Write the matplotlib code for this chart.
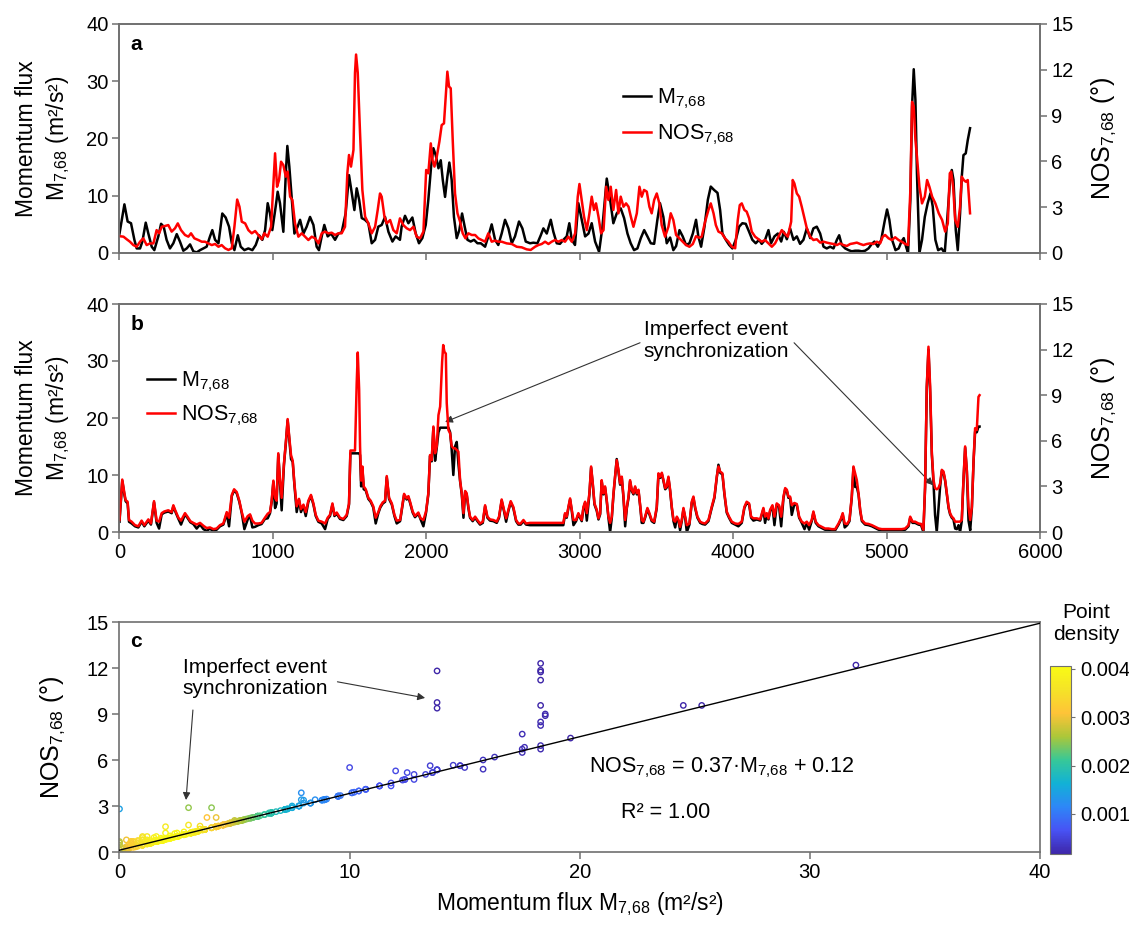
import numpy as np
import matplotlib
matplotlib.use("Agg")
import matplotlib.pyplot as plt
from matplotlib.colors import LinearSegmentedColormap, Normalize
from matplotlib.cm import ScalarMappable

plt.rcParams['font.family'] = ['Liberation Sans', 'DejaVu Sans']
plt.rcParams['mathtext.fontset'] = 'custom'
plt.rcParams['mathtext.rm'] = 'Liberation Sans'
plt.rcParams['mathtext.it'] = 'Liberation Sans:italic'
plt.rcParams['mathtext.bf'] = 'Liberation Sans:bold'

# ---- panel a : raw series, (time, value) pairs ----
a_black = np.array([
    (0, 3.4), (32, 8.5), (53, 5.5), (75, 5.2), (97, 2.3), (112, 0.8), (134, 0.8), (149, 2.0), (171, 5.3), (188, 3.4),
    (210, 1.1), (227, 0.5), (253, 2.9), (271, 5.1), (288, 4.6), (307, 2.3), (329, 0.8), (351, 1.7), (373, 3.3), (394, 2.0),
    (416, 0.4), (438, 0.8), (460, 1.5), (481, 0.3), (503, 0.1), (525, 0.5), (547, 0.8), (568, 1.1), (590, 2.9), (605, 4.0),
    (623, 2.3), (645, 1.7), (670, 6.9), (692, 6.2), (714, 4.6), (732, 1.7), (749, 0.5), (771, 3.1), (790, 1.1), (814, 0.5),
    (840, 0.8), (866, 0.5), (888, 1.4), (910, 3.1), (931, 2.3), (949, 4.0), (966, 8.7), (981, 6.9), (996, 4.0), (1018, 8.1),
    (1031, 10.7), (1046, 8.7), (1068, 3.7), (1084, 13.9), (1094, 18.7), (1107, 15.1), (1122, 9.8), (1140, 3.4), (1161, 4.6), (1177, 5.8),
    (1199, 3.4), (1220, 4.6), (1242, 6.3), (1264, 4.9), (1285, 1.1), (1300, 0.5), (1318, 2.9), (1335, 4.9), (1357, 2.9), (1379, 3.4),
    (1405, 2.3), (1427, 3.4), (1448, 3.6), (1474, 6.9), (1496, 13.6), (1518, 9.8), (1531, 7.5), (1546, 11.3), (1562, 9.3), (1579, 6.1),
    (1600, 5.8), (1622, 5.2), (1644, 1.7), (1666, 2.3), (1687, 4.6), (1709, 4.9), (1731, 6.3), (1753, 3.7), (1779, 2.0), (1800, 2.9),
    (1828, 2.3), (1839, 4.6), (1861, 6.5), (1883, 5.2), (1909, 6.2), (1931, 3.4), (1952, 1.7), (1974, 2.6), (1996, 4.9), (2013, 9.3),
    (2031, 15.1), (2046, 18.3), (2061, 17.1), (2079, 14.8), (2094, 16.2), (2107, 12.8), (2122, 9.8), (2137, 13.3), (2150, 15.8), (2165, 12.8),
    (2180, 6.3), (2198, 2.6), (2215, 4.0), (2233, 6.9), (2250, 4.6), (2268, 2.3), (2289, 2.0), (2311, 2.3), (2333, 1.7), (2355, 1.7),
    (2383, 1.1), (2404, 2.9), (2426, 5.0), (2448, 2.3), (2469, 1.4), (2491, 3.4), (2513, 5.8), (2535, 4.3), (2557, 1.7), (2578, 2.9),
    (2604, 5.5), (2626, 4.3), (2648, 2.0), (2676, 1.7), (2698, 1.8), (2724, 1.7), (2746, 3.1), (2763, 4.3), (2785, 3.4), (2811, 5.8),
    (2828, 3.7), (2850, 1.7), (2871, 1.6), (2893, 2.3), (2915, 2.9), (2932, 5.2), (2948, 2.3), (2969, 1.4), (2991, 8.7), (3013, 5.8),
    (3035, 2.9), (3057, 3.4), (3078, 5.2), (3100, 2.0), (3126, 0.2), (3148, 4.6), (3176, 13.0), (3198, 9.3), (3219, 5.2), (3241, 6.9),
    (3267, 7.8), (3289, 6.1), (3311, 3.4), (3332, 1.7), (3354, 0.5), (3376, 0.8), (3398, 2.6), (3420, 4.0), (3441, 2.9), (3463, 1.7),
    (3485, 1.6), (3506, 5.8), (3523, 8.7), (3545, 6.3), (3567, 1.7), (3589, 2.7), (3610, 0.5), (3628, 1.2), (3650, 4.0), (3671, 2.9),
    (3693, 1.4), (3715, 1.7), (3737, 3.4), (3758, 5.8), (3773, 2.9), (3791, 1.1), (3813, 4.6), (3835, 9.3), (3854, 11.6), (3876, 11.0),
    (3898, 10.5), (3915, 7.5), (3930, 3.4), (3952, 2.3), (3974, 1.4), (3995, 0.8), (4017, 2.3), (4039, 4.6), (4060, 5.2), (4082, 5.1),
    (4104, 3.7), (4125, 2.3), (4147, 1.7), (4169, 2.3), (4186, 1.6), (4208, 2.3), (4230, 4.0), (4247, 1.7), (4269, 2.9), (4291, 3.4),
    (4313, 2.0), (4330, 3.7), (4350, 2.4), (4371, 4.3), (4393, 2.3), (4415, 2.9), (4436, 1.6), (4458, 2.3), (4480, 4.3), (4502, 2.6),
    (4523, 4.3), (4545, 4.6), (4567, 3.4), (4589, 1.1), (4610, 0.8), (4632, 1.1), (4654, 0.8), (4676, 2.3), (4691, 3.1), (4708, 1.4),
    (4730, 0.8), (4752, 0.5), (4773, 0.3), (4795, 0.4), (4817, 0.4), (4839, 0.3), (4860, 0.4), (4882, 0.8), (4904, 1.6), (4921, 2.0),
    (4943, 1.1), (4965, 2.3), (4987, 5.5), (5003, 7.6), (5018, 5.8), (5036, 2.3), (5058, 0.5), (5079, 0.8), (5097, 2.0), (5112, 2.6),
    (5127, 1.1), (5140, 0.0), (5155, 9.3), (5166, 25.6), (5177, 32.1), (5188, 26.7), (5198, 13.9), (5214, 0.0), (5231, 2.3), (5249, 6.3),
    (5268, 8.7), (5286, 10.4), (5301, 8.1), (5318, 2.3), (5336, 0.5), (5358, 0.8), (5379, 0.0), (5392, 4.6), (5414, 12.8), (5425, 14.5),
    (5436, 12.8), (5451, 4.0), (5464, 0.5), (5479, 6.9), (5490, 13.3), (5501, 17.1), (5516, 17.4), (5529, 19.7), (5544, 21.8),
])

a_red = np.array([
    (0, 1.1), (26, 1.07), (47, 0.9), (68, 0.74), (90, 0.52), (112, 0.41), (134, 0.74), (155, 0.96), (177, 0.52), (199, 0.63),
    (221, 0.63), (242, 1.5), (258, 1.29), (275, 1.72), (297, 1.77), (318, 1.83), (340, 1.4), (362, 1.62), (380, 1.94), (401, 1.5),
    (427, 1.18), (449, 1.07), (466, 1.29), (488, 0.96), (514, 0.85), (536, 0.74), (557, 0.74), (579, 0.63), (601, 0.52), (623, 0.59),
    (645, 0.41), (666, 0.52), (688, 0.31), (710, 0.2), (732, 0.31), (749, 1.72), (767, 3.5), (782, 3.03), (797, 2.05), (819, 1.94),
    (840, 1.5), (862, 1.29), (884, 1.44), (905, 1.18), (927, 0.9), (944, 1.29), (966, 1.07), (988, 1.72), (1003, 4.56), (1014, 6.53),
    (1027, 4.34), (1040, 4.78), (1053, 5.98), (1068, 5.76), (1084, 5.0), (1096, 5.33), (1112, 3.69), (1127, 3.47), (1144, 1.94), (1166, 1.07),
    (1188, 1.29), (1210, 1.07), (1231, 0.85), (1253, 1.07), (1275, 0.96), (1297, 0.63), (1318, 1.29), (1340, 1.4), (1361, 1.29), (1383, 1.33),
    (1405, 1.18), (1427, 1.29), (1448, 1.29), (1470, 1.72), (1485, 5.2), (1496, 6.42), (1509, 5.66), (1525, 6.75), (1535, 11.8), (1542, 13.0),
    (1553, 11.8), (1568, 7.84), (1583, 4.13), (1601, 2.38), (1622, 1.94), (1644, 1.29), (1666, 1.72), (1683, 2.82), (1698, 3.9), (1709, 3.69),
    (1727, 2.38), (1742, 1.94), (1764, 2.16), (1785, 1.5), (1807, 1.29), (1828, 2.27), (1850, 1.83), (1872, 1.62), (1894, 1.5), (1916, 1.72),
    (1937, 1.07), (1959, 0.96), (1981, 1.4), (1999, 5.44), (2013, 5.22), (2029, 7.18), (2040, 6.09), (2053, 5.66), (2068, 6.31), (2085, 7.29),
    (2100, 8.38), (2115, 8.49), (2126, 10.24), (2137, 11.88), (2148, 10.9), (2159, 10.79), (2172, 7.4), (2187, 3.9), (2203, 2.6), (2220, 2.05),
    (2237, 1.29), (2255, 0.96), (2274, 1.29), (2296, 1.18), (2318, 1.18), (2339, 0.96), (2361, 0.85), (2383, 0.74), (2404, 1.29), (2426, 0.74),
    (2448, 0.81), (2469, 0.74), (2491, 0.74), (2524, 0.63), (2557, 0.59), (2589, 0.41), (2622, 0.37), (2654, 0.24), (2680, 0.2), (2709, 0.41),
    (2730, 0.52), (2752, 0.59), (2774, 0.74), (2796, 0.59), (2817, 0.74), (2839, 0.85), (2861, 0.74), (2883, 0.85), (2904, 0.74), (2926, 1.07),
    (2948, 0.74), (2970, 1.29), (2987, 3.69), (2998, 4.52), (3013, 3.47), (3028, 2.38), (3046, 1.5), (3063, 2.6), (3078, 3.69), (3093, 2.82),
    (3106, 3.25), (3122, 2.38), (3139, 1.29), (3155, 1.5), (3172, 4.34), (3187, 3.47), (3202, 4.34), (3219, 2.82), (3237, 4.13), (3252, 2.6),
    (3267, 3.69), (3285, 3.03), (3302, 3.25), (3318, 3.03), (3333, 2.38), (3350, 1.72), (3372, 2.6), (3389, 4.34), (3404, 3.69), (3419, 4.13),
    (3437, 4.02), (3454, 3.03), (3469, 2.6), (3485, 3.47), (3502, 3.9), (3519, 3.25), (3534, 1.83), (3556, 1.07), (3578, 1.72), (3593, 2.6),
    (3610, 2.16), (3628, 1.18), (3650, 0.96), (3671, 0.74), (3693, 0.52), (3715, 0.41), (3737, 0.59), (3758, 1.1), (3780, 1.0), (3795, 1.07),
    (3817, 2.05), (3839, 2.82), (3854, 3.25), (3872, 2.6), (3887, 1.83), (3904, 1.4), (3926, 1.29), (3947, 0.96), (3969, 0.74), (3991, 0.41),
    (4013, 0.31), (4030, 2.16), (4043, 3.14), (4056, 3.25), (4073, 2.82), (4088, 2.71), (4104, 2.27), (4121, 1.4), (4143, 1.07), (4165, 0.9),
    (4186, 0.74), (4208, 0.85), (4230, 0.63), (4252, 0.41), (4273, 0.63), (4295, 1.07), (4317, 1.5), (4334, 1.29), (4356, 1.07), (4378, 2.05),
    (4388, 4.78), (4399, 4.56), (4415, 3.9), (4430, 3.69), (4447, 3.03), (4465, 2.27), (4480, 1.62), (4502, 1.07), (4523, 0.85), (4545, 0.9),
    (4567, 0.68), (4589, 0.74), (4610, 0.68), (4632, 0.63), (4654, 0.59), (4676, 0.52), (4697, 0.63), (4719, 0.52), (4741, 0.46), (4763, 0.59),
    (4784, 0.63), (4806, 0.68), (4828, 0.59), (4849, 0.52), (4871, 0.59), (4893, 0.63), (4915, 0.59), (4937, 0.74), (4958, 0.63), (4975, 1.07),
    (4991, 1.18), (5013, 0.96), (5034, 0.85), (5056, 1.03), (5078, 0.85), (5099, 0.74), (5121, 0.59), (5140, 0.52), (5155, 4.13), (5166, 9.9),
    (5177, 9.6), (5188, 7.4), (5198, 6.31), (5214, 4.34), (5231, 3.25), (5249, 3.69), (5264, 4.78), (5279, 4.34), (5297, 3.69), (5318, 3.25),
    (5340, 2.6), (5362, 2.16), (5382, 1.4), (5399, 1.94), (5412, 5.22), (5421, 5.33), (5434, 4.34), (5447, 2.16), (5464, 1.72), (5479, 3.03),
    (5490, 5.0), (5503, 4.78), (5516, 4.67), (5529, 4.78), (5544, 2.6),
])

# ---- panel b : synchronized series, (time, M, NOS) ----
b_series = np.array([
    (0, 1.8, 0.79), (18, 9.0, 3.45), (32, 6.5, 2.55), (40, 5.4, 2.10), (53, 5.0, 1.99), (62, 1.8, 0.79), (79, 1.5, 0.68),
    (101, 1.0, 0.45), (123, 0.8, 0.38), (144, 1.8, 0.75), (162, 1.0, 0.45), (188, 2.0, 0.83), (205, 1.3, 0.56), (225, 5.2, 2.03),
    (242, 1.6, 0.75), (258, 0.6, 0.68), (275, 3.1, 1.24), (292, 3.4, 1.35), (318, 3.6, 1.43), (340, 3.3, 1.31), (351, 4.5, 1.76),
    (362, 3.7, 1.46), (384, 2.3, 0.94), (401, 1.3, 0.75), (427, 3.1, 1.24), (445, 2.4, 0.98), (462, 1.7, 0.71), (481, 1.4, 0.60),
    (503, 0.6, 0.49), (525, 1.3, 0.60), (547, 0.5, 0.41), (568, 0.2, 0.26), (590, 0.6, 0.30), (612, 0.1, 0.19), (633, 0.4, 0.23),
    (655, 1.0, 0.45), (677, 1.3, 0.56), (699, 3.2, 1.31), (714, 1.0, 0.94), (732, 6.3, 2.44), (747, 7.3, 2.81), (764, 6.8, 2.63),
    (781, 5.3, 2.06), (797, 3.3, 1.31), (814, 0.5, 0.68), (836, 2.2, 1.05), (851, 2.9, 1.16), (866, 0.8, 0.75), (883, 0.9, 0.56),
    (905, 1.2, 0.56), (926, 1.4, 0.60), (948, 2.3, 0.94), (966, 2.4, 1.20), (981, 3.3, 1.31), (992, 5.3, 2.06), (1003, 8.8, 3.38),
    (1014, 4.2, 2.25), (1024, 5.0, 2.06), (1035, 13.6, 5.18), (1046, 8.8, 3.38), (1057, 3.8, 2.25), (1072, 11.8, 4.50), (1085, 15.8, 6.00),
    (1096, 19.6, 7.43), (1107, 16.3, 6.19), (1118, 12.8, 5.06), (1129, 12.3, 4.69), (1140, 8.3, 3.19), (1155, 3.5, 1.69), (1170, 5.6, 2.18),
    (1183, 3.5, 1.50), (1199, 4.6, 1.80), (1214, 2.8, 1.31), (1231, 5.3, 2.06), (1248, 6.3, 2.44), (1264, 4.8, 1.88), (1279, 2.8, 1.13),
    (1296, 1.8, 0.75), (1318, 1.5, 0.68), (1340, 0.5, 0.56), (1357, 2.3, 0.94), (1372, 2.8, 1.13), (1388, 4.8, 1.88), (1401, 2.8, 1.13),
    (1416, 3.2, 1.28), (1437, 2.3, 0.94), (1459, 2.1, 0.86), (1481, 2.8, 1.13), (1496, 4.8, 1.88), (1505, 13.8, 5.36), (1520, 13.8, 5.36),
    (1535, 13.8, 5.36), (1546, 13.8, 9.75), (1553, 13.8, 11.81), (1562, 13.8, 9.38), (1568, 13.5, 5.63), (1575, 8.0, 3.38), (1583, 11.3, 4.31),
    (1592, 7.5, 3.00), (1605, 7.3, 2.81), (1622, 5.8, 2.25), (1637, 5.3, 2.06), (1654, 4.3, 1.69), (1670, 1.5, 0.94), (1687, 3.3, 1.31),
    (1700, 4.3, 1.69), (1716, 5.0, 1.95), (1731, 5.3, 2.06), (1742, 9.6, 3.68), (1757, 5.8, 2.25), (1775, 4.8, 1.88), (1792, 2.8, 1.13),
    (1807, 1.5, 0.75), (1829, 1.9, 0.79), (1855, 6.5, 2.51), (1872, 5.7, 2.21), (1883, 6.1, 2.36), (1894, 5.1, 1.99), (1911, 3.4, 1.35),
    (1926, 2.6, 1.05), (1948, 3.2, 1.28), (1963, 2.2, 0.90), (1981, 1.0, 0.79), (1998, 3.4, 1.35), (2013, 6.6, 2.55), (2024, 13.3, 5.06),
    (2035, 12.4, 4.73), (2046, 18.3, 6.94), (2057, 12.5, 5.18), (2068, 14.8, 5.63), (2079, 17.5, 7.69), (2090, 18.3, 8.25), (2096, 18.3, 9.56),
    (2103, 18.3, 11.21), (2110, 18.3, 12.30), (2118, 18.3, 11.85), (2127, 18.3, 11.74), (2133, 18.3, 8.48), (2144, 18.3, 6.71), (2155, 17.5, 6.49),
    (2165, 14.5, 5.66), (2176, 10.0, 5.51), (2187, 15.0, 5.51), (2198, 15.8, 5.40), (2209, 12.0, 5.29), (2220, 8.9, 3.41), (2231, 6.6, 2.55),
    (2242, 2.5, 1.24), (2253, 7.0, 2.70), (2263, 6.6, 2.55), (2274, 4.2, 1.65), (2285, 2.5, 1.01), (2302, 1.9, 0.79), (2318, 2.5, 1.01),
    (2333, 1.9, 0.79), (2350, 1.3, 0.56), (2368, 1.6, 0.68), (2383, 4.5, 1.76), (2398, 2.5, 1.01), (2415, 2.0, 0.83), (2437, 1.9, 0.79),
    (2459, 1.6, 0.68), (2474, 2.5, 1.01), (2491, 5.5, 2.14), (2506, 3.7, 1.46), (2520, 1.8, 0.90), (2535, 3.7, 1.46), (2550, 5.2, 2.03),
    (2567, 4.2, 1.65), (2585, 1.9, 0.79), (2600, 1.3, 0.56), (2615, 1.3, 0.56), (2633, 1.9, 0.79), (2650, 1.3, 0.56), (2676, 1.2, 0.60),
    (2700, 1.2, 0.60), (2725, 1.2, 0.60), (2750, 1.2, 0.60), (2775, 1.2, 0.60), (2800, 1.2, 0.60), (2825, 1.2, 0.60), (2850, 1.2, 0.60),
    (2875, 1.2, 0.60), (2893, 1.2, 0.60), (2904, 3.1, 1.24), (2915, 2.5, 1.01), (2926, 4.2, 1.65), (2937, 5.7, 2.21), (2948, 3.7, 1.46),
    (2959, 1.2, 0.79), (2976, 1.9, 0.79), (2991, 3.1, 1.24), (3013, 1.9, 0.79), (3024, 4.2, 1.65), (3035, 5.1, 1.99), (3046, 2.0, 1.24),
    (3063, 6.6, 2.55), (3074, 11.3, 4.31), (3085, 8.3, 3.19), (3096, 4.8, 1.88), (3111, 3.7, 1.46), (3122, 2.2, 0.90), (3133, 3.1, 1.24),
    (3143, 8.9, 3.41), (3154, 6.6, 2.55), (3165, 7.8, 3.00), (3176, 5.4, 2.10), (3187, 2.5, 1.01), (3198, 0.0, 0.60), (3209, 2.5, 1.01),
    (3220, 6.6, 2.55), (3230, 9.5, 3.64), (3241, 12.8, 4.73), (3252, 10.7, 4.09), (3263, 8.3, 3.19), (3274, 9.5, 3.64), (3285, 6.0, 2.33),
    (3296, 1.0, 0.79), (3307, 4.2, 1.65), (3318, 6.0, 2.33), (3328, 8.9, 3.41), (3339, 7.2, 2.78), (3350, 6.6, 2.55), (3361, 7.8, 3.00),
    (3372, 6.6, 2.55), (3383, 7.2, 2.78), (3394, 4.5, 1.76), (3404, 1.6, 0.79), (3415, 1.6, 0.68), (3426, 2.5, 1.01), (3441, 4.0, 1.58),
    (3454, 3.1, 1.24), (3469, 1.9, 0.79), (3485, 1.6, 0.68), (3502, 4.2, 1.65), (3513, 10.1, 3.86), (3524, 9.5, 3.64), (3535, 10.2, 3.90),
    (3546, 8.9, 3.41), (3557, 7.5, 2.89), (3567, 7.8, 3.00), (3578, 9.5, 3.64), (3589, 7.2, 2.78), (3600, 4.2, 1.65), (3611, 1.9, 0.79),
    (3622, 0.8, 0.68), (3633, 2.5, 1.01), (3644, 1.9, 0.79), (3654, 0.3, 0.34), (3665, 1.9, 0.79), (3676, 4.0, 1.58), (3687, 2.5, 1.01),
    (3698, 0.0, 0.45), (3715, 1.3, 0.56), (3730, 5.1, 1.99), (3741, 6.0, 2.33), (3752, 4.2, 1.65), (3767, 2.5, 1.01), (3785, 1.6, 0.68),
    (3800, 1.4, 0.60), (3817, 1.3, 0.56), (3839, 1.9, 0.79), (3860, 4.2, 1.65), (3878, 6.0, 2.33), (3893, 9.5, 3.64), (3904, 11.8, 4.31),
    (3915, 10.4, 3.98), (3930, 10.1, 3.86), (3943, 6.6, 2.55), (3958, 3.4, 1.35), (3973, 2.5, 1.01), (3991, 1.6, 0.68), (4013, 1.3, 0.56),
    (4034, 1.0, 0.53), (4056, 1.6, 0.68), (4073, 4.2, 1.65), (4088, 5.1, 1.99), (4104, 4.8, 1.88), (4117, 2.5, 1.01), (4132, 2.0, 0.90),
    (4154, 2.2, 0.90), (4176, 2.0, 0.83), (4197, 4.0, 1.58), (4208, 1.6, 1.01), (4219, 3.1, 1.24), (4230, 2.2, 0.90), (4241, 3.7, 1.46),
    (4256, 4.5, 1.76), (4269, 1.2, 1.01), (4284, 4.8, 1.88), (4299, 4.5, 1.76), (4313, 1.0, 1.01), (4328, 6.0, 2.33), (4339, 7.5, 2.89),
    (4350, 7.2, 2.78), (4360, 6.0, 2.33), (4371, 6.0, 2.33), (4382, 3.0, 1.76), (4399, 4.9, 1.91), (4415, 4.7, 1.84), (4430, 2.5, 1.01),
    (4447, 1.6, 0.68), (4465, 0.5, 0.56), (4480, 1.6, 0.68), (4495, 0.4, 0.45), (4512, 1.9, 0.79), (4523, 3.4, 1.35), (4538, 1.6, 0.68),
    (4556, 1.0, 0.45), (4577, 0.7, 0.34), (4599, 0.4, 0.23), (4621, 0.4, 0.23), (4643, 0.3, 0.19), (4665, 0.3, 0.19), (4687, 1.3, 0.56),
    (4703, 2.2, 0.90), (4714, 3.1, 1.24), (4727, 0.8, 0.56), (4743, 1.2, 0.53), (4758, 1.9, 0.79), (4773, 6.0, 2.33), (4784, 11.3, 4.31),
    (4795, 7.9, 3.86), (4806, 7.9, 3.41), (4817, 6.6, 2.55), (4828, 3.7, 1.46), (4839, 1.9, 0.79), (4860, 1.3, 0.56), (4882, 1.2, 0.53),
    (4904, 1.0, 0.45), (4926, 0.7, 0.34), (4948, 0.4, 0.23), (4969, 0.3, 0.19), (4991, 0.3, 0.19), (5013, 0.3, 0.19), (5034, 0.3, 0.19),
    (5056, 0.3, 0.19), (5078, 0.3, 0.19), (5099, 0.3, 0.19), (5121, 0.4, 0.23), (5143, 1.0, 0.45), (5154, 2.5, 1.01), (5169, 1.6, 0.68),
    (5186, 1.6, 0.68), (5208, 1.3, 0.56), (5225, 1.2, 0.53), (5240, 0.0, 0.15), (5251, 7.8, 3.00), (5262, 25.3, 9.56), (5273, 32.0, 12.19),
    (5284, 24.5, 9.56), (5295, 13.6, 5.18), (5306, 8.5, 3.41), (5316, 3.0, 2.89), (5327, 0.0, 2.81), (5338, 4.0, 2.89), (5349, 8.0, 3.19),
    (5360, 10.7, 4.09), (5371, 10.4, 3.98), (5382, 8.9, 3.41), (5393, 6.6, 2.55), (5404, 4.2, 1.65), (5414, 3.1, 1.24), (5425, 2.5, 1.01),
    (5436, 2.2, 0.90), (5447, 0.6, 0.68), (5458, 0.5, 0.68), (5469, 1.2, 0.68), (5479, 0.0, 0.68), (5490, 1.9, 0.79), (5501, 8.9, 3.41),
    (5512, 14.8, 5.63), (5523, 10.7, 4.09), (5534, 2.0, 1.65), (5545, 0.3, 0.79), (5556, 4.2, 1.65), (5567, 12.4, 4.73), (5577, 17.6, 6.83),
    (5588, 17.5, 6.71), (5599, 18.5, 8.89), (5606, 18.5, 9.00),
])

fit_slope, fit_icpt = 0.37, 0.12
cbar_ticks = [0.001, 0.002, 0.003, 0.004]

a_m_t, a_m = a_black.T
a_nos_t, a_nos = a_red.T
b_t, b_m, b_nos = b_series.T

# parula-like colormap
parula = LinearSegmentedColormap.from_list('parula', [
    (0.2422, 0.1504, 0.6603), (0.2810, 0.3228, 0.9579), (0.1786, 0.5289, 0.9682),
    (0.0689, 0.6948, 0.8394), (0.2161, 0.7843, 0.5923), (0.6720, 0.7793, 0.2227),
    (0.9970, 0.7659, 0.2199), (0.9606, 0.8897, 0.1537), (0.9769, 0.9839, 0.0805)])

# point density of the (M, NOS) pairs: gaussian kernel sum, scaled to the colour range
dx = (b_m[:, None] - b_m[None, :]) / 2.0
dy = (b_nos[:, None] - b_nos[None, :]) / 1.8
dens = np.exp(-0.5 * (dx ** 2 + dy ** 2)).sum(axis=1)
dens = dens / dens.max() * 0.0040
norm = Normalize(vmin=0.00017, vmax=0.00406)

fig = plt.figure(figsize=(11.29, 9.26), dpi=100)
L, W = 119.5 / 1129, 920.5 / 1129
ax_a = fig.add_axes([L, 1 - 253 / 926, W, 229 / 926])
ax_b = fig.add_axes([L, 1 - 532 / 926, W, 228 / 926])
ax_c = fig.add_axes([L, 1 - 852 / 926, W, 230 / 926])
cax = fig.add_axes([1050 / 1129, 1 - 854 / 926, 21 / 1129, 188 / 926])

spine_col = '#707070'


def style(ax):
    for s in ax.spines.values():
        s.set_color(spine_col)
        s.set_linewidth(1.2)
    ax.tick_params(direction='out', length=5, width=1.1, color=spine_col,
                   labelsize=14.5, pad=3)


sub = r'$_\mathregular{7{,}68}$'
m_lab = 'Momentum flux\nM' + sub + ' (m²/s²)'
nos_lab = 'NOS' + sub + ' (°)'

# ---------------- panel a ----------------
la, = ax_a.plot(a_m_t, a_m, color='black', lw=1.8)
ax_a2 = ax_a.twinx()
lb, = ax_a2.plot(a_nos_t, a_nos, color='#ff0000', lw=1.8)
for ax in (ax_a, ax_b):
    ax.set_xlim(0, 6000)
    ax.set_xticks(range(0, 6001, 1000))
    ax.set_ylim(0, 40)
    ax.set_yticks(range(0, 41, 10))
    ax.set_ylabel(m_lab, fontsize=16.5, labelpad=10, linespacing=1.3)
    style(ax)
ax_a.tick_params(labelbottom=False)
ax_a2.set_ylim(0, 15)
ax_a2.set_yticks(range(0, 16, 3))
ax_a2.set_ylabel(nos_lab, fontsize=18, labelpad=12)
style(ax_a2)
ax_a2.legend([la, lb], ['M' + sub, 'NOS' + sub], loc='center left',
             bbox_to_anchor=(0.535, 0.595), frameon=False, fontsize=15.5,
             handlelength=1.3, handletextpad=0.3, labelspacing=0.55, borderpad=0)
ax_a.text(0.012, 0.886, 'a', transform=ax_a.transAxes, fontsize=15,
          fontweight='bold', va='baseline')

# ---------------- panel b ----------------
lc, = ax_b.plot(b_t, b_m, color='black', lw=1.8)
ax_b2 = ax_b.twinx()
ld, = ax_b2.plot(b_t, b_nos, color='#ff0000', lw=1.8)
ax_b2.set_ylim(0, 15)
ax_b2.set_yticks(range(0, 16, 3))
ax_b2.set_ylabel(nos_lab, fontsize=18, labelpad=12)
style(ax_b2)
ax_b2.legend([lc, ld], ['M' + sub, 'NOS' + sub], loc='center left',
             bbox_to_anchor=(0.018, 0.585), frameon=False, fontsize=15.5,
             handlelength=1.3, handletextpad=0.3, labelspacing=0.45, borderpad=0)
ax_b.text(0.012, 0.886, 'b', transform=ax_b.transAxes, fontsize=15,
          fontweight='bold', va='baseline')
ax_b.text(3890, 33.6, 'Imperfect event\nsynchronization', ha='center', va='center',
          fontsize=15, linespacing=1.15)
arr = dict(arrowstyle='-|>', color='#333333', lw=0.8, mutation_scale=11,
           shrinkA=0, shrinkB=0)
ax_b.annotate('', xy=(2122, 19.3), xytext=(3393, 33.2), arrowprops=arr)
ax_b.annotate('', xy=(5303, 8.2), xytext=(4397, 33.2), arrowprops=arr)

# ---------------- panel c ----------------
order = np.argsort(dens)
ax_c.scatter(b_m[order], b_nos[order], s=15, facecolors='none',
             edgecolors=parula(norm(dens[order])), linewidths=1.0, zorder=2)
xs = np.array([0, 40])
ax_c.plot(xs, fit_slope * xs + fit_icpt, color='black', lw=1.0, zorder=3)
ax_c.set_xlim(0, 40)
ax_c.set_ylim(0, 15)
ax_c.set_xticks(range(0, 41, 10))
ax_c.set_yticks(range(0, 16, 3))
style(ax_c)
ax_c.tick_params(right=False)
ax_c.set_ylabel(nos_lab, fontsize=18, labelpad=14)
ax_c.set_xlabel('Momentum flux M' + sub + ' (m²/s²)', fontsize=16.5, labelpad=6)
ax_c.text(0.012, 0.891, 'c', transform=ax_c.transAxes, fontsize=15,
          fontweight='bold', va='baseline')
ax_c.text(5.9, 11.35, 'Imperfect event\nsynchronization', ha='center', va='center',
          fontsize=15, linespacing=1.15)
ax_c.annotate('', xy=(2.89, 3.39), xytext=(3.19, 9.26), arrowprops=arr)
ax_c.annotate('', xy=(13.28, 10.05), xytext=(9.47, 11.1), arrowprops=arr)
ax_c.text(20.4, 5.5, 'NOS' + sub + ' = 0.37·M' + sub + ' + 0.12', fontsize=15.5,
          va='center')
ax_c.text(21.8, 2.6, 'R² = 1.00', fontsize=15.5, va='center')

cb = fig.colorbar(ScalarMappable(norm=norm, cmap=parula), cax=cax, ticks=cbar_ticks)
cb.ax.set_yticklabels(['%.3f' % v for v in cbar_ticks])
cb.outline.set_edgecolor(spine_col)
cb.ax.tick_params(labelsize=14.5, length=3, color=spine_col)
fig.text(1086 / 1129, 1 - 624 / 926, 'Point\ndensity', ha='center', va='center',
         fontsize=15, linespacing=1.2)

fig.savefig('out.png', dpi=100)
